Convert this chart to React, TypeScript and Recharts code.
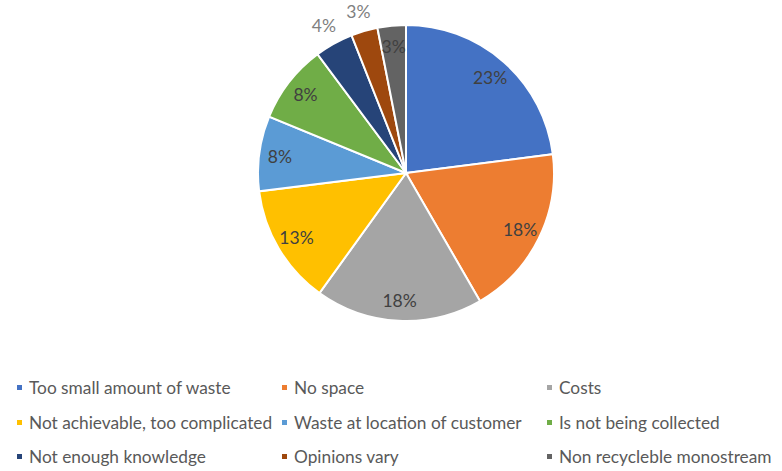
import React from 'react';
import { PieChart, Pie, Cell } from 'recharts';

const categories = [
  'Too small amount of waste',
  'No space',
  'Costs',
  'Not achievable, too complicated',
  'Waste at location of customer',
  'Is not being collected',
  'Not enough knowledge',
  'Opinions vary',
  'Non recycleble monostream',
];
const values = [23.0, 18.7, 18.3, 13.1, 8.2, 8.6, 4.2, 2.9, 3.1];
const valueLabels = ['23%', '18%', '18%', '13%', '8%', '8%', '4%', '3%', '3%'];
const colors = ['#4472C4', '#ED7D31', '#A5A5A5', '#FFC000', '#5B9BD5', '#70AD47', '#264478', '#9E480E', '#636363'];
const outsideIdx = [6, 7];

const data = categories.map((name, i) => ({ name, value: values[i] }));

const RAD = Math.PI / 180;

const renderLabel = (props: any) => {
  const { cx, cy, midAngle, outerRadius, index } = props;
  const outside = outsideIdx.includes(index);
  const f = outside ? 1.14 : 0.86;
  const r = outerRadius * f;
  const x = cx + r * Math.cos(-midAngle * RAD);
  const y = cy + r * Math.sin(-midAngle * RAD);
  return (
    <text
      x={x}
      y={y}
      textAnchor="middle"
      dominantBaseline="central"
      fill={outside ? '#7F7F7F' : '#404040'}
      fontSize={17.5}
      fontFamily="Lato, 'Open Sans', sans-serif"
    >
      {valueLabels[index]}
    </text>
  );
};

const colX = [17, 282, 547];
const rowY = [387, 422, 456];

export default function App() {
  return (
    <div style={{ position: 'absolute', left: 0, top: 0, width: 782, height: 471, background: '#fff' }}>
      <PieChart width={782} height={471} margin={{ top: 0, right: 0, bottom: 0, left: 0 }}>
        <Pie
          data={data}
          dataKey="value"
          nameKey="name"
          cx={406}
          cy={173}
          outerRadius={148}
          startAngle={90}
          endAngle={-270}
          stroke="#FFFFFF"
          strokeWidth={2}
          label={renderLabel}
          labelLine={false}
          isAnimationActive={false}
        >
          {data.map((d, i) => (
            <Cell key={d.name} fill={colors[i]} />
          ))}
        </Pie>
      </PieChart>
      {categories.map((name, i) => {
        const col = i % 3;
        const row = Math.floor(i / 3);
        return (
          <div
            key={name}
            style={{
              position: 'absolute',
              left: colX[col],
              top: rowY[row] - 12,
              height: 24,
              display: 'flex',
              alignItems: 'center',
              fontFamily: "Lato, 'Open Sans', sans-serif",
              fontSize: 17.3,
              color: '#595959',
              whiteSpace: 'nowrap',
            }}
          >
            <span style={{ display: 'inline-block', width: 5, height: 5, background: colors[i], marginRight: 7 }} />
            <span>{name}</span>
          </div>
        );
      })}
    </div>
  );
}
